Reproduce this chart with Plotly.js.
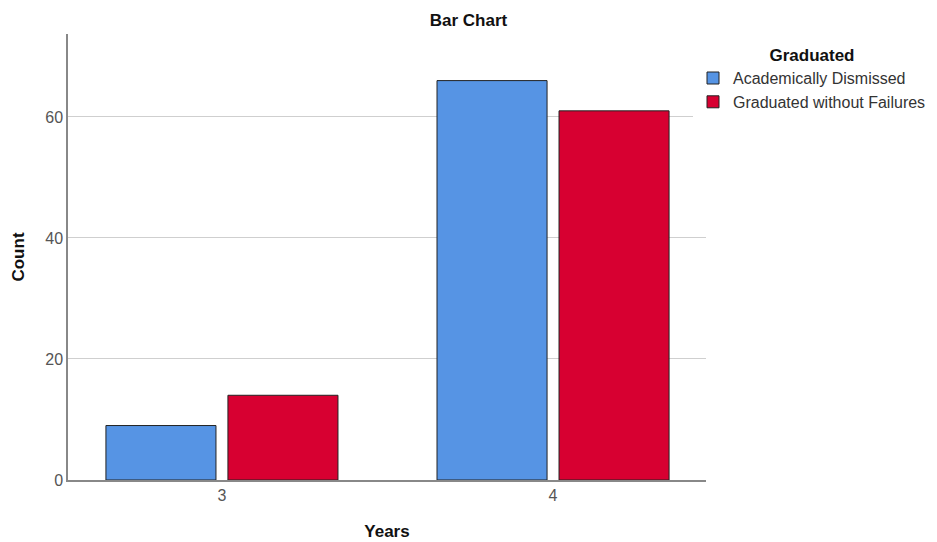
<!DOCTYPE html>
<html>
<head>
<meta charset="utf-8">
<script src="https://cdn.plot.ly/plotly-3.0.1.min.js"></script>
<style>html,body{margin:0;padding:0;background:#fff;}#chart{width:937px;height:542px;}</style>
</head>
<body>
<div id="chart"></div>
<script>
const categories = ["3", "4"];
const seriesNames = ["Academically Dismissed", "Graduated without Failures"];
const dismissed = [9, 66];
const graduated = [14, 61];
const yTicks = [0, 20, 40, 60];

const colors = ["#5694e4", "#d70031"];
const values = [dismissed, graduated];

const traces = seriesNames.map((name, i) => ({
  type: "bar",
  name: name,
  x: categories,
  y: values[i],
  marker: {color: colors[i], line: {color: "#222", width: 1}},
  hoverinfo: "x+y+name"
}));

const layout = {
  width: 937,
  height: 542,
  margin: {l: 68, r: 231, t: 34, b: 62, autoexpand: false},
  paper_bgcolor: "#fff",
  plot_bgcolor: "#fff",
  font: {family: "Liberation Sans, Arial, sans-serif", color: "#333", size: 16},
  title: {text: "<b>Bar Chart</b>", x: 0.5, xref: "container", xanchor: "center", y: 1 - 20/542, yref: "container", yanchor: "middle", font: {size: 17, color: "#111"}},
  barmode: "group",
  bargap: 0.263,
  bargroupgap: 0.098,
  xaxis: {
    type: "category",
    range: [-0.465, 1.462],
    showline: true, linecolor: "#888", linewidth: 1.5,
    showgrid: false, ticks: "", ticklen: 0,
    tickfont: {size: 16, color: "#555"},
    title: {text: "<b>Years</b>", font: {size: 17, color: "#111"}, standoff: 22}
  },
  yaxis: {
    range: [0, 73.7],
    tickvals: yTicks,
    ticktext: yTicks.map(String),
    showline: true, linecolor: "#888", linewidth: 1.5,
    showgrid: true, gridcolor: "#cfcfcf", gridwidth: 1,
    zeroline: false,
    ticks: "",
    tickfont: {size: 16, color: "#555"},
    title: {text: "<b>Count</b>", font: {size: 17, color: "#111"}, standoff: 16}
  },
  legend: {
    xref: "container", yref: "container",
    x: 693/937, xanchor: "left", y: 1 - 39/542, yanchor: "top",
    title: {text: "<b>Graduated</b>", side: "top center", font: {size: 17, color: "#111"}},
    font: {size: 16, color: "#333"},
    itemwidth: 30,
    tracegroupgap: 0
  },
  showlegend: true
};

Plotly.newPlot("chart", traces, layout, {displayModeBar: false});
</script>
</body>
</html>
